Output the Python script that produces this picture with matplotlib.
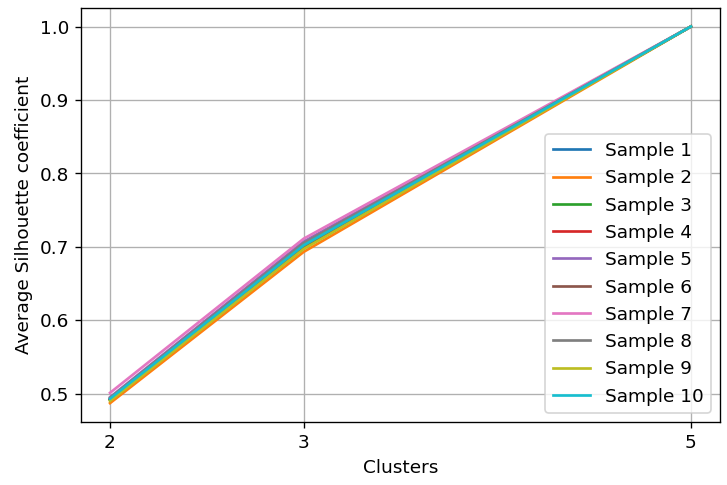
import matplotlib
matplotlib.use("Agg")
import matplotlib.pyplot as plt

clusters = [2, 3, 5]
sample_names = ["Sample %d" % i for i in range(1, 11)]
s1 = [0.492, 0.703, 1.0]
s2 = [0.487, 0.693, 1.0]
s3 = [0.491, 0.700, 1.0]
s4 = [0.493, 0.704, 1.0]
s5 = [0.495, 0.707, 1.0]
s6 = [0.492, 0.701, 1.0]
s7 = [0.501, 0.711, 1.0]
s8 = [0.494, 0.705, 1.0]
s9 = [0.490, 0.697, 1.0]
s10 = [0.493, 0.702, 1.0]
series = [s1, s2, s3, s4, s5, s6, s7, s8, s9, s10]

plt.rcParams["font.size"] = 11
fig, ax = plt.subplots(figsize=(6, 4), dpi=121.33)
for name, vals in zip(sample_names, series):
    ax.plot(clusters, vals, label=name, linewidth=1.6)
ax.set_xticks(clusters)
ax.set_xlabel("Clusters")
ax.set_ylabel("Average Silhouette coefficient")
ax.grid(True)
ax.legend(loc="lower right")
fig.subplots_adjust(left=81/728, right=720/728, top=1-8/485, bottom=1-422/485)
plt.savefig("out.png")
